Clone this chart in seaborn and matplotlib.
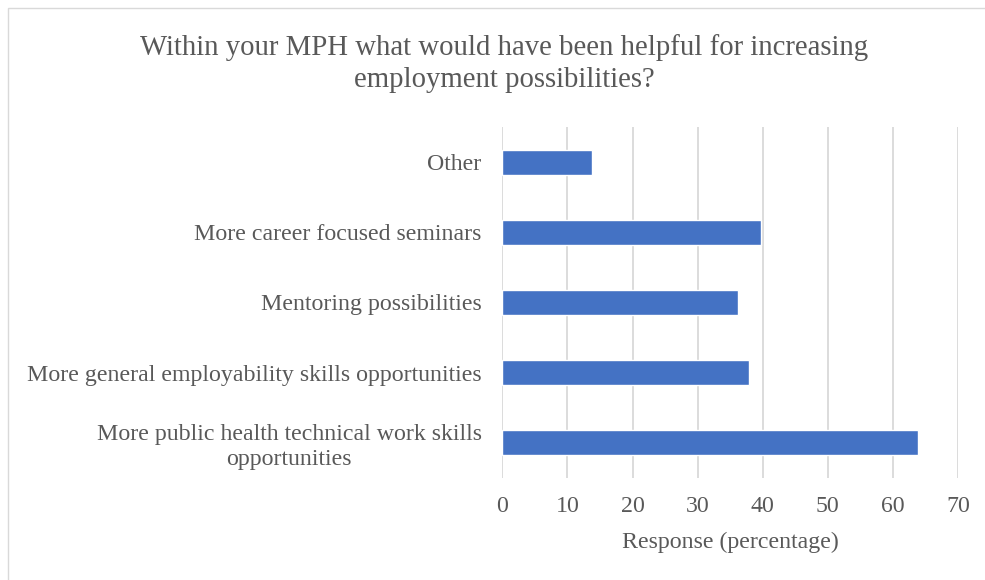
import matplotlib
matplotlib.use("Agg")
import matplotlib.pyplot as plt
import pandas as pd
import seaborn as sns

# values
categories = [
    "Other",
    "More career focused seminars",
    "Mentoring possibilities",
    "More general employability skills opportunities",
    "More public health technical work skills\nopportunities",
]
responses = [13.75, 39.7, 36.2, 37.9, 63.8]
x_ticks = [0, 10, 20, 30, 40, 50, 60, 70]

df = pd.DataFrame({"category": categories, "response": responses})

sns.set_theme(style="white")
plt.rcParams["font.family"] = ["Liberation Serif", "DejaVu Serif"]

text_col = "#595959"
bar_col = "#4472C4"
grid_col = "#D9D9D9"

fig = plt.figure(figsize=(9.85, 5.8), dpi=100)
ax = fig.add_axes([0.51, 0.1767, 0.4626, 0.6035])

sns.barplot(data=df, x="response", y="category", order=categories,
            color=bar_col, saturation=1, width=0.36, orient="h", ax=ax)

ax.set_xlim(0, 70)
ax.set_ylim(4.5, -0.5)
ax.set_xticks(x_ticks)
ax.set_axisbelow(True)
ax.grid(axis="x", color=grid_col, linewidth=1.3)
ax.grid(axis="y", visible=False)
for s in ax.spines.values():
    s.set_visible(False)
ax.tick_params(axis="both", length=0, colors=text_col, labelsize=17.2)
ax.tick_params(axis="y", pad=15)
ax.tick_params(axis="x", pad=13)
for lbl in ax.get_yticklabels():
    lbl.set_multialignment("center")
    lbl.set_linespacing(1.25)

ax.set_ylabel("")
ax.set_xlabel("Response (percentage)", color=text_col, fontsize=17.2, labelpad=11)

fig.text(0.512, 0.8905,
         "Within your MPH what would have been helpful for increasing\nemployment possibilities?",
         ha="center", va="center", fontsize=20.7, color=text_col, linespacing=1.33)

# chart area border
fig.patches.append(plt.Rectangle((8 / 985, -0.05), 1.1, 1 - 8 / 580 + 0.05,
                                 transform=fig.transFigure, fill=False,
                                 edgecolor=grid_col, linewidth=1))

fig.savefig("out.png", dpi=100)
